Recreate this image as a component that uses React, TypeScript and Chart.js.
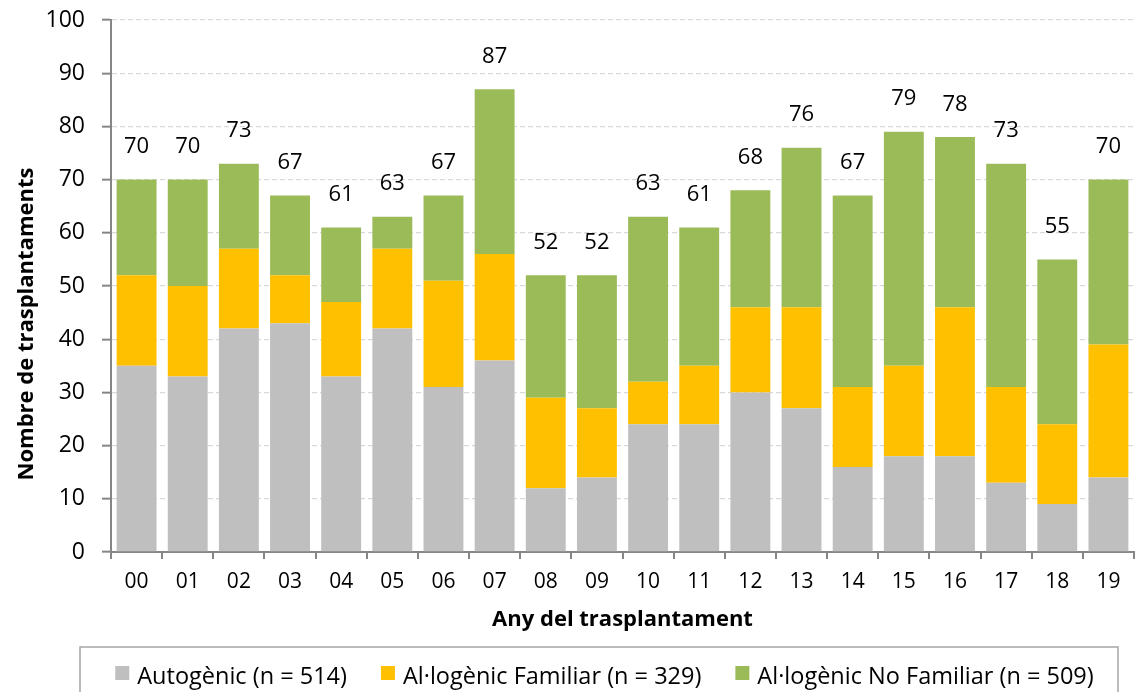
import { useEffect, useRef } from 'react';
import { Chart, registerables } from 'chart.js';

Chart.register(...registerables);

const categories = ['00', '01', '02', '03', '04', '05', '06', '07', '08', '09', '10', '11', '12', '13', '14', '15', '16', '17', '18', '19'];
const autogenic = [35, 33, 42, 43, 33, 42, 31, 36, 12, 14, 24, 24, 30, 27, 16, 18, 18, 13, 9, 14];
const alloFamiliar = [17, 17, 15, 9, 14, 15, 20, 20, 17, 13, 8, 11, 16, 19, 15, 17, 28, 18, 15, 25];
const alloNoFamiliar = [18, 20, 16, 15, 14, 6, 16, 31, 23, 25, 31, 26, 22, 30, 36, 44, 32, 42, 31, 31];
const seriesLabels = ['Autogènic (n = 514)', 'Al·logènic Familiar (n = 329)', 'Al·logènic No Familiar (n = 509)'];
const seriesColors = ['#bfbfbf', '#ffc000', '#9bbb59'];
const yMin = 0;
const yMax = 100;
const yStep = 10;
const xTitle = 'Any del trasplantament';
const yTitle = 'Nombre de trasplantaments';

const FONT = '"Open Sans", Lato, sans-serif';

const totalsPlugin = {
  id: 'totals',
  afterDatasetsDraw(chart: any) {
    const ctx = chart.ctx;
    const lastIdx = chart.data.datasets.length - 1;
    const meta = chart.getDatasetMeta(lastIdx);
    ctx.save();
    ctx.font = `22px ${FONT}`;
    ctx.fillStyle = '#000';
    ctx.textAlign = 'center';
    ctx.textBaseline = 'alphabetic';
    meta.data.forEach((bar: any, i: number) => {
      const total = chart.data.datasets.reduce((s: number, d: any) => s + Number(d.data[i]), 0);
      ctx.fillText(String(total), bar.x, bar.y - 26.5);
    });
    ctx.restore();
  },
};

const axisTitlesPlugin = {
  id: 'axisTitles',
  afterDraw(chart: any) {
    const ctx = chart.ctx;
    const area = chart.chartArea;
    ctx.save();
    ctx.fillStyle = '#000';
    ctx.font = `bold 22px ${FONT}`;
    ctx.textAlign = 'center';
    ctx.textBaseline = 'alphabetic';
    ctx.fillText(xTitle, (area.left + area.right) / 2, 626);
    ctx.translate(33, 324);
    ctx.rotate(-Math.PI / 2);
    ctx.fillText(yTitle, 0, 0);
    ctx.restore();
  },
};

const boxedLegendPlugin = {
  id: 'boxedLegend',
  afterDraw(chart: any) {
    const ctx = chart.ctx;
    const box = { left: 80, top: 647, right: 1118, bottom: chart.height + 10 };
    ctx.save();
    ctx.strokeStyle = '#a6a6a6';
    ctx.lineWidth = 1.5;
    ctx.strokeRect(box.left, box.top, box.right - box.left, box.bottom - box.top);
    ctx.font = `23.5px ${FONT}`;
    const sq = 14;
    const gapText = 8;
    const gapItem = 34;
    const items = chart.data.datasets.map((d: any) => ({
      label: d.label,
      color: d.backgroundColor,
      w: ctx.measureText(d.label).width,
    }));
    const total = items.reduce((s: number, it: any) => s + sq + gapText + it.w, 0) + gapItem * (items.length - 1);
    let x = 604.5 - total / 2;
    const baseline = 684;
    items.forEach((it: any) => {
      ctx.fillStyle = it.color;
      ctx.fillRect(x, 666, sq, sq);
      x += sq + gapText;
      ctx.fillStyle = '#000';
      ctx.textBaseline = 'alphabetic';
      ctx.textAlign = 'left';
      ctx.fillText(it.label, x, baseline);
      x += it.w + gapItem;
    });
    ctx.restore();
  },
};

export default function App() {
  const canvasRef = useRef<HTMLCanvasElement | null>(null);

  useEffect(() => {
    if (!canvasRef.current) return;
    const series = [autogenic, alloFamiliar, alloNoFamiliar];
    const chart = new Chart(canvasRef.current, {
      type: 'bar',
      data: {
        labels: categories,
        datasets: series.map((data, i) => ({
          label: seriesLabels[i],
          data,
          backgroundColor: seriesColors[i],
          borderWidth: 0,
          barPercentage: 0.78,
          categoryPercentage: 1,
        })),
      },
      options: {
        responsive: false,
        animation: false,
        layout: { padding: { top: 20, right: 4, left: 0, bottom: 0 } },
        plugins: {
          legend: { display: false },
          tooltip: { enabled: false },
        },
        scales: {
          x: {
            stacked: true,
            afterFit(scale: any) {
              scale.height = 140;
              scale.paddingLeft = 0;
              scale.paddingRight = 0;
            },
            grid: {
              display: true,
              drawOnChartArea: false,
              drawTicks: true,
              tickLength: 7,
              color: '#868686',
              lineWidth: 2,
              offset: true,
            },
            border: { display: true, color: '#868686', width: 2 },
            ticks: {
              color: '#000',
              font: { family: FONT, size: 21 },
              padding: 10,
              maxRotation: 0,
            },
          },
          y: {
            stacked: true,
            min: yMin,
            max: yMax,
            afterFit(scale: any) {
              scale.width = 111;
              scale.paddingTop = 0;
              scale.paddingBottom = 0;
            },
            ticks: {
              stepSize: yStep,
              color: '#000',
              font: { family: FONT, size: 23 },
              padding: 17,
            },
            grid: {
              color: '#d9d9d9',
              lineWidth: 1.3,
              drawTicks: true,
              tickLength: 9,
              tickColor: '#868686',
              tickWidth: 2,
              tickBorderDash: [],
            },
            border: { display: true, color: '#868686', width: 2, dash: [5, 3] },
          },
        },
      },
      plugins: [totalsPlugin, axisTitlesPlugin, boxedLegendPlugin],
    } as any);
    return () => chart.destroy();
  }, []);

  return (
    <div style={{ position: 'fixed', left: 0, top: 0, width: 1138, height: 692, background: '#fff' }}>
      <canvas ref={canvasRef} width={1138} height={692} style={{ display: 'block' }} />
    </div>
  );
}
